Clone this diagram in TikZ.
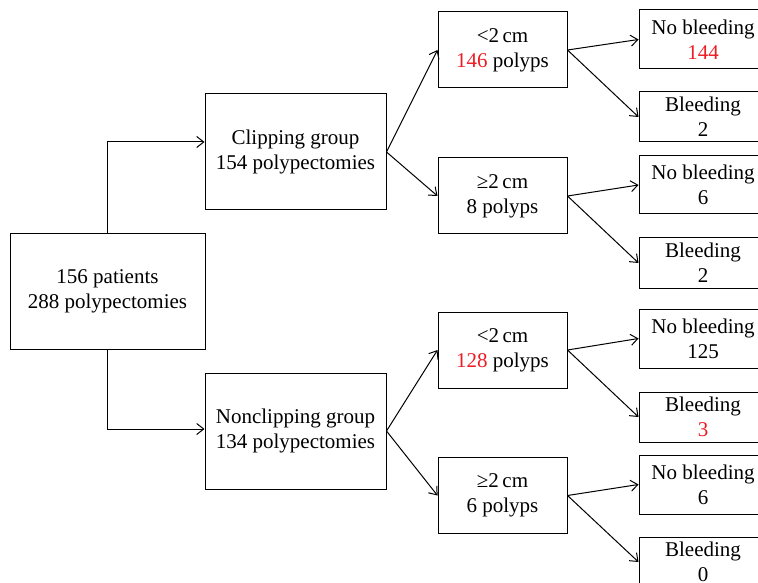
\documentclass[tikz,border=0pt]{standalone}
\usepackage{fontspec}
\setmainfont{Liberation Serif}
\usetikzlibrary{arrows.meta}
\definecolor{numred}{RGB}{237,28,36}
\begin{document}
\begin{tikzpicture}[x=0.5pt,y=-0.5pt,
  box/.style={draw,line width=0.5pt,align=center,inner sep=0pt,font=\fontsize{10.5}{12.5}\selectfont},
  groupbox/.style={box,minimum width=90.5pt,minimum height=58pt},
  sizebox/.style={box,minimum width=64.5pt,minimum height=38pt},
  arr/.style={-{Straight Barb[length=3.5pt,width=5.5pt]},line width=0.5pt}]
\clip (0,0) rectangle (758,582);

% level 0
\node[box,minimum width=97.5pt,minimum height=57.5pt] (root) at (107.5,291.5) {156 patients\\288 polypectomies};

% groups
\node[groupbox] (clip) at (295.5,152) {Clipping group\\154 polypectomies};
\node[groupbox] (nonclip) at (295.5,431) {Nonclipping group\\134 polypectomies};
\draw[arr] (root.north) |- ([yshift=5pt]clip.west);
\draw[arr] (root.south) |- ([yshift=1pt]nonclip.west);

% polyp size
\node[sizebox] (lt1) at (502.5,50) {<2\,cm\\\textcolor{numred}{146} polyps};
\node[sizebox] (ge1) at (502.5,196) {≥2\,cm\\8 polyps};
\node[sizebox] (lt2) at (502.5,350) {<2\,cm\\\textcolor{numred}{128} polyps};
\node[sizebox] (ge2) at (502.5,495.5) {≥2\,cm\\6 polyps};
\foreach \a/\b in {clip/lt1,clip/ge1,nonclip/lt2,nonclip/ge2}
  \draw[arr] (\a.east) -- (\b.west);

% outcome
\foreach \n/\y/\h/\t in {nb1/39.5/29.5/{No bleeding\\\textcolor{numred}{144}},
                         b1/117/25/{Bleeding\\2},
                         nb2/185/29/{No bleeding\\6},
                         b2/263/25/{Bleeding\\2},
                         nb3/338.5/29.5/{No bleeding\\125},
                         b3/417/25/{Bleeding\\\textcolor{numred}{3}},
                         nb4/484.5/29.5/{No bleeding\\6},
                         b4/562/25/{Bleeding\\0}}{
  \node[box,minimum width=64pt,minimum height=\h pt] (\n) at (703,\y) {\t};
}
\foreach \a/\b in {lt1/nb1,lt1/b1,ge1/nb2,ge1/b2,lt2/nb3,lt2/b3,ge2/nb4,ge2/b4}
  \draw[arr] (\a.east) -- (\b.west);
\end{tikzpicture}
\end{document}
